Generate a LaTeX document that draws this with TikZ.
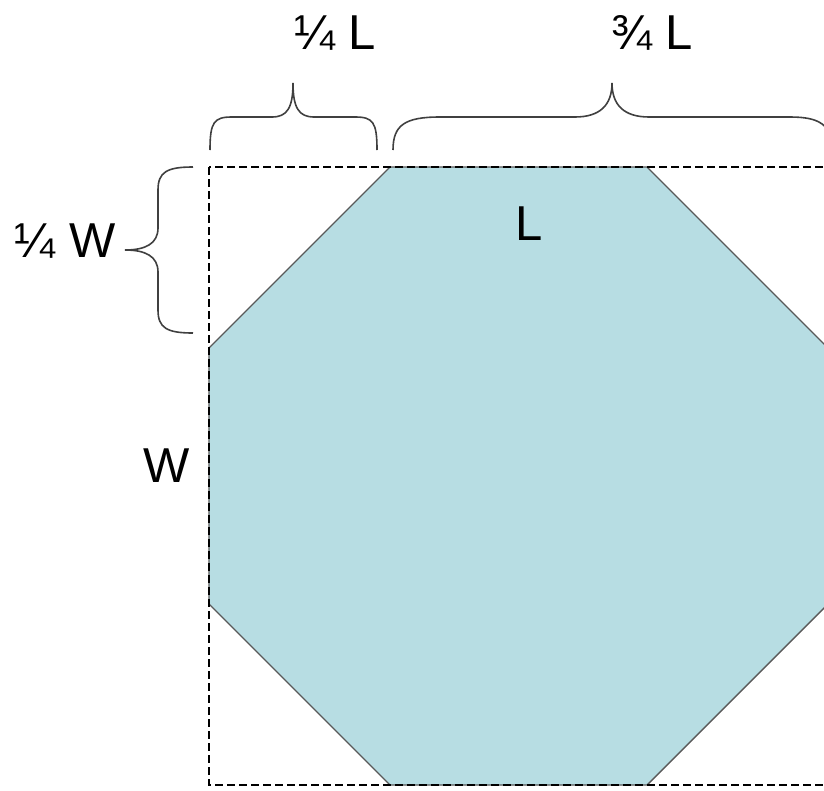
\documentclass[tikz,border=0pt]{standalone}
\usepackage{fontspec}
\setmainfont{Liberation Sans}
\definecolor{octfill}{RGB}{183,221,227}
\begin{document}
\begin{tikzpicture}[x=1pt,y=-1pt,
    lbl/.style={inner sep=0pt, font=\fontsize{49}{58}\selectfont},
    braceline/.style={draw=black!75, line width=1.6pt},
    boxline/.style={draw=black, dash pattern=on 8pt off 4pt, line width=1.5pt}]
    \useasboundingbox (0,0) rectangle (824,790);

    % Octagon
    \filldraw[fill=octfill, draw=black!65, line width=1.4pt]
        (390,167) -- (647,167) -- (828,348) -- (828,604) -- (647,785)
        -- (390,785) -- (209,604) -- (209,348) -- cycle;

    % Dashed frame
    \draw[boxline] (209,167) rectangle (828,785);

    % Brace 1/4 L
    \draw[braceline] (210,150) .. controls (210,122) and (214,117) .. (232,117) -- (272,117)
        .. controls (287,117) and (293,108) .. (293,83)
        .. controls (293,108) and (299,117) .. (314,117) -- (355,117)
        .. controls (373,117) and (377,122) .. (377,150);

    % Brace 3/4 L
    \draw[braceline] (393,150) .. controls (393,125) and (405,117) .. (440,117) -- (575,117)
        .. controls (600,117) and (612,105) .. (612,83)
        .. controls (612,105) and (624,117) .. (649,117) -- (790,117)
        .. controls (820,117) and (832,125) .. (832,150);

    % Brace 1/4 W
    \draw[braceline] (193,167) .. controls (167,167) and (158,172) .. (158,190) -- (158,228)
        .. controls (158,244) and (145,250) .. (125,250)
        .. controls (145,250) and (158,256) .. (158,272) -- (158,310)
        .. controls (158,328) and (167,333) .. (193,333);

    % Labels
    \node[lbl] (quarterL) at (335,33) {¼ L};
    \node[lbl] (threeqL) at (652,33) {¾ L};
    \node[lbl] (quarterW) at (65,241) {¼ W};
    \node[lbl] (labL) at (529,224) {L};
    \node[lbl] (labW) at (167,466) {W};

\end{tikzpicture}
\end{document}
